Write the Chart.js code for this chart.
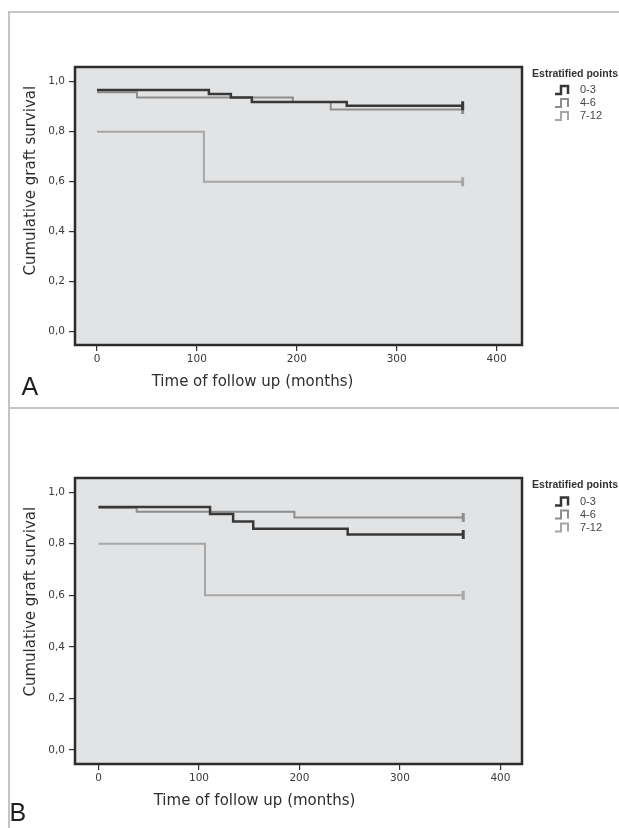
<!DOCTYPE html>
<html>
<head>
<meta charset="utf-8">
<script src="https://cdn.jsdelivr.net/npm/chart.js@4.4.0/dist/chart.umd.min.js"></script>
<style>
body { margin: 0; background: #fff; width: 619px; height: 828px; position: relative; overflow: hidden; }
.panel { position: absolute; left: 0; width: 619px; }
.rule { position: absolute; background: #c4c4c4; }
</style>
</head>
<body>
<div class="panel" style="top:0;height:410px"><canvas id="chartA" width="619" height="410"></canvas></div>
<div class="panel" style="top:410px;height:418px"><canvas id="chartB" width="619" height="418"></canvas></div>
<div class="rule" style="left:8px;top:11px;width:611px;height:1.5px"></div>
<div class="rule" style="left:8px;top:11px;width:1.5px;height:817px"></div>
<div class="rule" style="left:8px;top:407px;width:611px;height:1.5px"></div>
<script>
var groupLabels = ['0-3', '4-6', '7-12']
var groupColors = ['#383838', '#8d8d8d', '#a6a6a6']
var groupWidths = [2.5, 2, 2]
var legendTitle = 'Estratified points'
var xTitle = 'Time of follow up (months)'
var yTitle = 'Cumulative graft survival'
var xTicks = [0, 100, 200, 300, 400]
var yTicks = [0, 0.2, 0.4, 0.6, 0.8, 1.0]

// panel A
var aTime03 = [0, 112, 134, 155, 250, 366]
var aSurv03 = [0.967, 0.951, 0.937, 0.919, 0.904, 0.904]
var aTime46 = [0, 40, 196, 234, 366]
var aSurv46 = [0.958, 0.937, 0.919, 0.889, 0.889]
var aTime712 = [0, 107, 366]
var aSurv712 = [0.80, 0.60, 0.60]

// panel B
var bTime03 = [0, 111, 134, 154, 248, 363]
var bSurv03 = [0.943, 0.915, 0.886, 0.858, 0.836, 0.836]
var bTime46 = [0, 38, 195, 363]
var bSurv46 = [0.940, 0.924, 0.902, 0.902]
var bTime712 = [0, 106, 363]
var bSurv712 = [0.80, 0.60, 0.60]

function toPoints(times, surv) {
  return times.map((t, i) => ({x: t, y: surv[i]}))
}

function makeDataset(i, times, surv) {
  let n = times.length
  return {
    label: groupLabels[i],
    data: toPoints(times, surv),
    stepped: 'before',
    borderColor: groupColors[i],
    borderWidth: groupWidths[i],
    fill: false,
    pointStyle: 'line',
    rotation: 90,
    pointRadius: ctx => ctx.dataIndex === n - 1 ? 4.5 : 0,
    pointBorderWidth: 3,
    pointBorderColor: groupColors[i],
    pointBackgroundColor: groupColors[i]
  }
}

function drawStep(ctx, x, y, color, w) {
  ctx.save()
  ctx.strokeStyle = color
  ctx.lineWidth = w
  ctx.beginPath()
  ctx.moveTo(x, y + 4)
  ctx.lineTo(x + 6, y + 4)
  ctx.lineTo(x + 6, y - 4)
  ctx.lineTo(x + 13, y - 4)
  ctx.lineTo(x + 13, y + 4)
  ctx.stroke()
  ctx.restore()
}

var panelDeco = {
  id: 'panelDeco',
  beforeDatasetsDraw(chart) {
    let a = chart.chartArea
    let ctx = chart.ctx
    ctx.save()
    ctx.fillStyle = '#e2e3e5'
    ctx.fillRect(a.left, a.top, a.right - a.left, a.bottom - a.top)
    ctx.restore()
  },
  afterDraw(chart, args, opts) {
    let a = chart.chartArea
    let ctx = chart.ctx
    ctx.save()
    // frame
    ctx.strokeStyle = '#2c2c2c'
    ctx.lineWidth = 2.5
    ctx.strokeRect(a.left, a.top, a.right - a.left, a.bottom - a.top)

    // axis titles
    ctx.fillStyle = '#2e2e2e'
    ctx.font = '15px "DejaVu Sans"'
    ctx.textAlign = 'center'
    ctx.textBaseline = 'middle'
    ctx.fillText(xTitle, opts.xt[0], opts.xt[1])
    ctx.save()
    ctx.translate(opts.yt[0], opts.yt[1])
    ctx.rotate(-Math.PI / 2)
    ctx.fillText(yTitle, 0, 0)
    ctx.restore()

    // panel letter
    ctx.textAlign = 'left'
    ctx.textBaseline = 'alphabetic'
    ctx.font = '25px "Liberation Sans"'
    ctx.fillStyle = '#1e1e1e'
    ctx.fillText(opts.letter, opts.lt[0], opts.lt[1])

    // legend
    let lx = 532, ly = opts.legY
    ctx.font = '600 11px "Liberation Sans"'
    ctx.fillStyle = '#333'
    ctx.textBaseline = 'middle'
    let tw = ctx.measureText(legendTitle).width
    ctx.save()
    ctx.translate(lx, ly)
    ctx.scale(86 / tw, 1)
    ctx.fillText(legendTitle, 0, 0)
    ctx.restore()
    ctx.font = '11px "Liberation Sans"'
    ctx.fillStyle = '#444'
    groupLabels.forEach((lab, i) => {
      let y = ly + 16.5 + i * 13
      drawStep(ctx, 555, y, groupColors[i], groupWidths[i])
      ctx.fillText(lab, 580, y)
    })
    ctx.restore()
  }
}

function drawChart(id, datasets, xr, yr, pad, deco) {
  let ctx = document.getElementById(id)
  return new Chart(ctx, {
    type: 'line',
    data: {datasets: datasets},
    plugins: [panelDeco],
    options: {
      responsive: false,
      animation: false,
      events: [],
      layout: {padding: pad},
      plugins: {
        legend: {display: false},
        tooltip: {enabled: false},
        panelDeco: deco
      },
      scales: {
        x: {
          type: 'linear',
          min: xr[0],
          max: xr[1],
          afterBuildTicks: s => { s.ticks = xTicks.map(v => ({value: v})) },
          afterFit: s => { s.height = 50 },
          border: {display: false},
          grid: {drawOnChartArea: false, drawTicks: true, tickLength: 6, color: '#333', lineWidth: 1.2},
          ticks: {
            maxRotation: 0,
            padding: 2,
            color: '#3a3a3a',
            font: {family: 'DejaVu Sans', size: 10.5},
            callback: v => String(v)
          }
        },
        y: {
          type: 'linear',
          min: yr[0],
          max: yr[1],
          afterBuildTicks: s => { s.ticks = yTicks.map(v => ({value: v})) },
          afterFit: s => { s.width = 55 },
          border: {display: false},
          grid: {drawOnChartArea: false, drawTicks: true, tickLength: 6, color: '#333', lineWidth: 1.2},
          ticks: {
            padding: 4,
            color: '#3a3a3a',
            font: {family: 'DejaVu Sans', size: 10.5},
            callback: v => v.toFixed(1).replace('.', ',')
          }
        }
      }
    }
  })
}

var chartA = drawChart('chartA', [
    makeDataset(0, aTime03, aSurv03),
    makeDataset(1, aTime46, aSurv46),
    makeDataset(2, aTime712, aSurv712)
  ],
  [-22, 425.4], [-0.053, 1.059],
  {left: 20, right: 97, top: 67, bottom: 15},
  {letter: 'A', lt: [21.5, 395], xt: [252.5, 382], yt: [31.6, 180.7], legY: 73.5})

var chartB = drawChart('chartB', [
    makeDataset(0, bTime03, bSurv03),
    makeDataset(1, bTime46, bSurv46),
    makeDataset(2, bTime712, bSurv712)
  ],
  [-23.4, 421.5], [-0.054, 1.055],
  {left: 20, right: 97, top: 68, bottom: 14},
  {letter: 'B', lt: [9.5, 411], xt: [254.5, 390.7], yt: [31.6, 191.7], legY: 75})
</script>
</body>
</html>
